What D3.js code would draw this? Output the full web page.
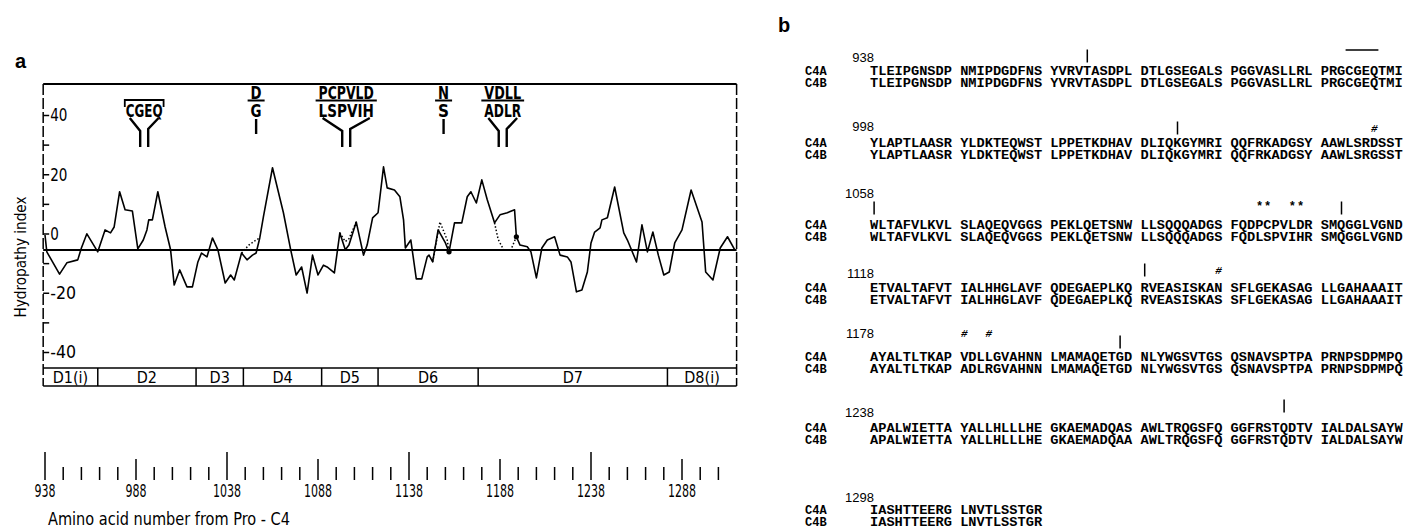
<!DOCTYPE html>
<html>
<head>
<meta charset="utf-8">
<script src="https://cdn.jsdelivr.net/npm/d3@7"></script>
<style>
  html, body { margin: 0; padding: 0; background: #fff; }
  svg { display: block; }
  .cond { font-family: "DejaVu Sans Condensed", "Liberation Sans Narrow", "Roboto Condensed", "DejaVu Sans", sans-serif; font-stretch: condensed; }
  .seq { font-family: "Liberation Mono", "DejaVu Sans Mono", monospace; font-weight: bold; white-space: pre; }
  .panel-label { font-family: "Liberation Sans", Arial, sans-serif; font-weight: bold; }
</style>
</head>
<body>
<svg id="figure" width="1405" height="529"></svg>
<script>
// ---- panel a: hydropathy profile (residue number, index) ----
const residues = [938, 939, 946, 950, 956, 958, 961, 967, 971, 974,
  976, 979, 982, 986, 989, 992, 994, 995, 997, 1000,
  1004, 1007, 1009, 1012, 1016, 1019, 1022, 1024, 1027, 1030,
  1033, 1037, 1040, 1042, 1046, 1049, 1052, 1054, 1056, 1058,
  1063, 1069, 1073, 1076, 1079, 1082, 1085, 1088, 1091, 1093,
  1097, 1100, 1103, 1105, 1109, 1113, 1115, 1118, 1121, 1124,
  1126, 1130, 1133, 1135, 1136, 1139, 1142, 1145, 1148, 1149,
  1151, 1154, 1158, 1160, 1163, 1167, 1170, 1172, 1175, 1178,
  1181, 1185, 1188, 1192, 1196, 1197, 1199, 1203, 1205, 1208,
  1211, 1214, 1218, 1221, 1225, 1227, 1230, 1233, 1236, 1238,
  1240, 1243, 1244, 1247, 1251, 1256, 1258, 1263, 1266, 1269,
  1272, 1275, 1278, 1281, 1284, 1288, 1293, 1299, 1301, 1305,
  1309, 1313, 1317];
const hydroC4A = [-0.5, -6.2, -13.7, -9.9, -8.9, -4.9, -0.1, -6.2, 1.2, 0.2,
  2.2, 14.1, 8.0, 7.6, -5.2, -2.2, 1.2, 4.6, 4.6, 14.1,
  2.2, -5.5, -17.4, -12.3, -18.0, -18.0, -9.6, -6.6, -7.9, -1.5,
  -5.5, -16.7, -14.0, -15.7, -6.6, -8.9, -7.3, -6.6, -1.5, 5.6,
  22.2, 7.0, -5.5, -14.0, -11.3, -20.1, -7.3, -14.0, -10.7, -11.3,
  -13.3, 0.2, -5.5, -3.9, 3.9, -7.3, -3.9, 5.3, 7.0, 22.5,
  15.4, 14.7, 12.4, 4.6, -4.9, -2.2, -15.3, -15.3, -7.9, -7.3,
  -9.6, 1.2, -3.2, -6.2, 3.6, 3.6, 12.4, 14.1, 10.3, 18.1,
  11.4, 3.6, 6.3, 7.0, 8.0, -1.1, -3.9, -4.5, -6.2, -15.0,
  -4.9, -2.2, -1.1, -7.3, -7.9, -9.6, -19.7, -19.1, -13.0, -3.2,
  0.5, 1.9, 4.6, 5.3, 15.7, 0.2, -2.2, -9.6, 2.9, -6.2,
  0.5, -7.3, -14.0, -13.0, -3.2, 1.2, 14.7, 3.9, -13.0, -15.7,
  -4.9, -1.1, -5.5];

// C4B where it differs (dotted)
const c4bRes1 = [1046, 1050, 1054, 1056], c4bVal1 = [-6.6, -3.9, -2.2, -1.5];
const c4bRes2 = [1100, 1103, 1105, 1109], c4bVal2 = [0.2, -2.7, -1.8, 3.9];
const c4bRes3 = [1151, 1155, 1159, 1160], c4bVal3 = [-9.6, 3.9, -2.2, -6.2];
const c4bRes4 = [1185, 1187, 1190, 1194, 1197], c4bVal4 = [3.6, -2.0, -5.5, -5.5, -1.1];
const joinRes = [1160, 1197], joinVal = [-6.2, -1.1];

const meanLevel = -5.6;
const yTicks = [-40, -30, -20, -10, 0, 10, 20, 30, 40];

// substitutions marked above the profile
const siteFrom = [991, 1054, 1101, 1157, 1188];
const siteTo = [994, 1054, 1106, 1157, 1191];
const siteC4A = ["", "D", "PCPVLD", "N", "VDLL"];
const siteC4B = ["CGEQ", "G", "LSPVIH", "S", "ADLR"];

// domains
const domainBounds = [937, 967, 1021, 1047, 1090, 1121, 1176, 1280, 1318];
const domainNames = ["D1(i)", "D2", "D3", "D4", "D5", "D6", "D7", "D8(i)"];

const axisTicks = d3.range(938, 1309, 10);

// ---- panel b: sequences ----
const blockStart = [938, 998, 1058, 1118, 1178, 1238, 1298];
const seqC4A = [
  "TLEIPGNSDP NMIPDGDFNS YVRVTASDPL DTLGSEGALS PGGVASLLRL PRGCGEQTMI",
  "YLAPTLAASR YLDKTEQWST LPPETKDHAV DLIQKGYMRI QQFRKADGSY AAWLSRDSST",
  "WLTAFVLKVL SLAQEQVGGS PEKLQETSNW LLSQQQADGS FQDPCPVLDR SMQGGLVGND",
  "ETVALTAFVT IALHHGLAVF QDEGAEPLKQ RVEASISKAN SFLGEKASAG LLGAHAAAIT",
  "AYALTLTKAP VDLLGVAHNN LMAMAQETGD NLYWGSVTGS QSNAVSPTPA PRNPSDPMPQ",
  "APALWIETTA YALLHLLLHE GKAEMADQAS AWLTRQGSFQ GGFRSTQDTV IALDALSAYW",
  "IASHTTEERG LNVTLSSTGR"];
const seqC4B = [
  "TLEIPGNSDP NMIPDGDFNS YVRVTASDPL DTLGSEGALS PGGVASLLRL PRGCGEQTMI",
  "YLAPTLAASR YLDKTEQWST LPPETKDHAV DLIQKGYMRI QQFRKADGSY AAWLSRGSST",
  "WLTAFVLKVL SLAQEQVGGS PEKLQETSNW LLSQQQADGS FQDLSPVIHR SMQGGLVGND",
  "ETVALTAFVT IALHHGLAVF QDEGAEPLKQ RVEASISKAS SFLGEKASAG LLGAHAAAIT",
  "AYALTLTKAP ADLRGVAHNN LMAMAQETGD NLYWGSVTGS QSNAVSPTPA PRNPSDPMPQ",
  "APALWIETTA YALLHLLLHE GKAEMADQAA AWLTRQGSFQ GGFRSTQDTV IALDALSAYW",
  "IASHTTEERG LNVTLSSTGR"];
const boundarySites = [962, 1032, 1058, 1110, 1148, 1206, 1284];
const hashSites = [1054, 1157, 1188, 1191];
const starSites = [1101, 1102, 1105, 1106];
const thioester = [991, 994];

const svg = d3.select("#figure");
svg.append("rect").attr("width", 1405).attr("height", 529).attr("fill", "#fff");

// ================= panel a =================
const x = d3.scaleLinear().domain([938, 1288]).range([45, 682]);
const y = d3.scaleLinear().domain([-40, 40]).range([352, 115]);
const frameL = x(937), frameR = x(1318), frameT = y(50.5);
const barTop = 368, barBot = 386;
const a = svg.append("g");

a.append("text").attr("class", "panel-label").attr("x", 15).attr("y", 68)
  .style("font-size", "20px").text("a");

// frame
a.append("line").attr("x1", frameL).attr("x2", frameR).attr("y1", frameT).attr("y2", frameT)
  .attr("stroke", "#000").attr("stroke-width", 2);
[frameL, frameR].forEach(fx => {
  a.append("line").attr("x1", fx).attr("x2", fx).attr("y1", frameT).attr("y2", barBot)
    .attr("stroke", "#000").attr("stroke-width", 1.5).attr("stroke-dasharray", "11,3");
});
[barTop, barBot].forEach(by => {
  a.append("line").attr("x1", frameL).attr("x2", frameR).attr("y1", by).attr("y2", by)
    .attr("stroke", "#000").attr("stroke-width", 1.5);
});

// y axis, ticks inside
const yAxis = d3.axisRight(y).tickValues(yTicks).tickSize(6).tickPadding(1)
  .tickFormat(d => d % 20 === 0 ? (d < 0 ? "-" + (-d) : String(d)) : "");
const gy = a.append("g").attr("transform", `translate(${frameL},0)`).call(yAxis);
gy.select(".domain").remove();
gy.selectAll(".tick line").attr("stroke", "#000").attr("stroke-width", 1.5);
gy.selectAll(".tick text").attr("class", "cond").attr("fill", "#000")
  .style("font-size", "18px")
  .attr("textLength", d => (d < 0 ? "-" + (-d) : String(d)).length * 8.6)
  .attr("lengthAdjust", "spacingAndGlyphs");

a.append("text").attr("class", "cond")
  .attr("transform", "translate(26,257) rotate(-90)")
  .attr("text-anchor", "middle").style("font-size", "16px")
  .attr("textLength", 121).attr("lengthAdjust", "spacingAndGlyphs")
  .text("Hydropathy index");

// mean line
a.append("line").attr("x1", frameL).attr("x2", frameR)
  .attr("y1", y(meanLevel)).attr("y2", y(meanLevel))
  .attr("stroke", "#000").attr("stroke-width", 2);

// profile
const line = d3.line().x(d => x(d[0])).y(d => y(d[1]));
a.append("path").datum(d3.zip(residues, hydroC4A))
  .attr("d", line).attr("fill", "none").attr("stroke", "#000").attr("stroke-width", 1.6)
  .attr("stroke-linejoin", "round");
[[c4bRes1, c4bVal1], [c4bRes2, c4bVal2], [c4bRes3, c4bVal3], [c4bRes4, c4bVal4]].forEach(([r, v]) => {
  a.append("path").datum(d3.zip(r, v)).attr("d", line).attr("fill", "none")
    .attr("stroke", "#000").attr("stroke-width", 1.5).attr("stroke-dasharray", "1.5,2");
});
a.selectAll("circle.join").data(d3.zip(joinRes, joinVal)).join("circle")
  .attr("cx", d => x(d[0])).attr("cy", d => y(d[1])).attr("r", 2.6).attr("fill", "#000");

// substitution labels
siteC4B.forEach((lab, i) => {
  const cx = x((siteFrom[i] + siteTo[i]) / 2);
  const w = lab.length > 1 ? lab.length * 9.2 : 11;
  const g = a.append("g");
  if (siteC4A[i]) {
    g.append("text").attr("class", "cond").attr("x", cx).attr("y", 98.5)
      .attr("text-anchor", "middle").style("font-size", "18.5px").style("font-weight", "bold")
      .attr("textLength", w).attr("lengthAdjust", "spacingAndGlyphs").text(siteC4A[i]);
    g.append("line").attr("x1", cx - w / 2 - 3).attr("x2", cx + w / 2 + 3)
      .attr("y1", 100.5).attr("y2", 100.5).attr("stroke", "#000").attr("stroke-width", 2);
  } else {
    g.append("path").attr("d", `M${cx - w / 2 - 1},107V100H${cx + w / 2 + 1}V107`)
      .attr("fill", "none").attr("stroke", "#000").attr("stroke-width", 1.8);
  }
  g.append("text").attr("class", "cond").attr("x", cx).attr("y", 116.5)
    .attr("text-anchor", "middle").style("font-size", "18.5px").style("font-weight", "bold")
    .attr("textLength", w).attr("lengthAdjust", "spacingAndGlyphs").text(lab);
  if (siteTo[i] > siteFrom[i]) {
    g.append("path").attr("d", `M${cx - w / 2 + 4},118L${cx - 4},131V147`)
      .attr("fill", "none").attr("stroke", "#000").attr("stroke-width", 2.4);
    g.append("path").attr("d", `M${cx + w / 2 - 4},118L${cx + 4},129V147`)
      .attr("fill", "none").attr("stroke", "#000").attr("stroke-width", 2.4);
  } else {
    g.append("line").attr("x1", cx).attr("x2", cx).attr("y1", 119).attr("y2", 134)
      .attr("stroke", "#000").attr("stroke-width", 2.4);
  }
});

// domain bar
domainBounds.slice(1, -1).forEach(b => {
  a.append("line").attr("x1", x(b)).attr("x2", x(b)).attr("y1", barTop).attr("y2", barBot)
    .attr("stroke", "#000").attr("stroke-width", 1.5);
});
domainNames.forEach((n, i) => {
  a.append("text").attr("class", "cond")
    .attr("x", (x(domainBounds[i]) + x(domainBounds[i + 1])) / 2).attr("y", barBot - 3)
    .attr("text-anchor", "middle").style("font-size", "16px").text(n);
});

// residue axis below
const axisY = 480;
const gx = a.append("g");
gx.selectAll("line").data(axisTicks).join("line")
  .attr("x1", d => x(d)).attr("x2", d => x(d)).attr("y1", axisY)
  .attr("y2", d => axisY - ((d - 938) % 100 === 0 ? 28 : (d - 938) % 50 === 0 ? 21 : 13))
  .attr("stroke", "#000").attr("stroke-width", 1.5);
gx.selectAll("text").data(axisTicks.filter(d => (d - 938) % 50 === 0)).join("text")
  .attr("class", "cond").attr("x", d => x(d)).attr("y", 497).attr("text-anchor", "middle")
  .style("font-size", "18px")
  .attr("textLength", d => String(d).length * 7.0).attr("lengthAdjust", "spacingAndGlyphs")
  .text(d => d);
a.append("text").attr("class", "cond").attr("x", 48).attr("y", 525)
  .style("font-size", "17px").attr("textLength", 242).attr("lengthAdjust", "spacingAndGlyphs")
  .text("Amino acid number from  Pro - C4");

// ================= panel b =================
const b = svg.append("g");
b.append("text").attr("class", "panel-label").attr("x", 778).attr("y", 32)
  .style("font-size", "20px").text("b");

const seqX = 870, charW = 8.2;
const numY = [57, 126, 193, 273, 333, 412, 497];
const rowAY = [70, 142, 224, 287, 356, 427, 509];
const markY = [56, 128, 208, 270, 342, 406, 0];
const rowGap = 12.5;

function colX(res) {
  const bi = d3.bisectRight(blockStart, res) - 1;
  const off = res - blockStart[bi];
  return { bi, x: seqX + (Math.floor(off / 10) * 11 + off % 10) * charW + charW / 2 };
}

blockStart.forEach((s, i) => {
  b.append("text").attr("x", 874).attr("y", numY[i] + 4.5).attr("text-anchor", "end")
    .style("font-family", "'Liberation Sans', Arial, sans-serif").style("font-size", "13px")
    .text(s);
  [["C4A", seqC4A[i], rowAY[i]], ["C4B", seqC4B[i], rowAY[i] + rowGap]].forEach(([lab, seq, ry]) => {
    b.append("text").attr("class", "seq").attr("x", 805).attr("y", ry + 4.5)
      .style("font-size", "12px").text(lab);
    b.append("text").attr("class", "seq").attr("x", seqX).attr("y", ry + 4.5)
      .style("font-size", "13.67px").text(seq);
  });
});

boundarySites.forEach(r => {
  const c = colX(r);
  b.append("line").attr("x1", c.x).attr("x2", c.x)
    .attr("y1", markY[c.bi] - 6.5).attr("y2", markY[c.bi] + 6.5)
    .attr("stroke", "#000").attr("stroke-width", 1.5);
});
hashSites.forEach(r => {
  const c = colX(r);
  b.append("text").attr("class", "seq").attr("x", c.x).attr("y", numY[c.bi] + (c.bi === 4 ? 4 : markY[c.bi] - numY[c.bi] + 4))
    .attr("text-anchor", "middle").style("font-size", "11px").style("font-style", "italic").text("#");
});
starSites.forEach(r => {
  const c = colX(r);
  b.append("text").attr("class", "seq").attr("x", c.x).attr("y", 210)
    .attr("text-anchor", "middle").style("font-size", "12px").text("*");
});
{
  const c0 = colX(thioester[0]), c1 = colX(thioester[1]);
  b.append("line").attr("x1", c0.x - charW / 2).attr("x2", c1.x + charW / 2)
    .attr("y1", 50).attr("y2", 50).attr("stroke", "#000").attr("stroke-width", 1.3);
}
</script>
</body>
</html>
